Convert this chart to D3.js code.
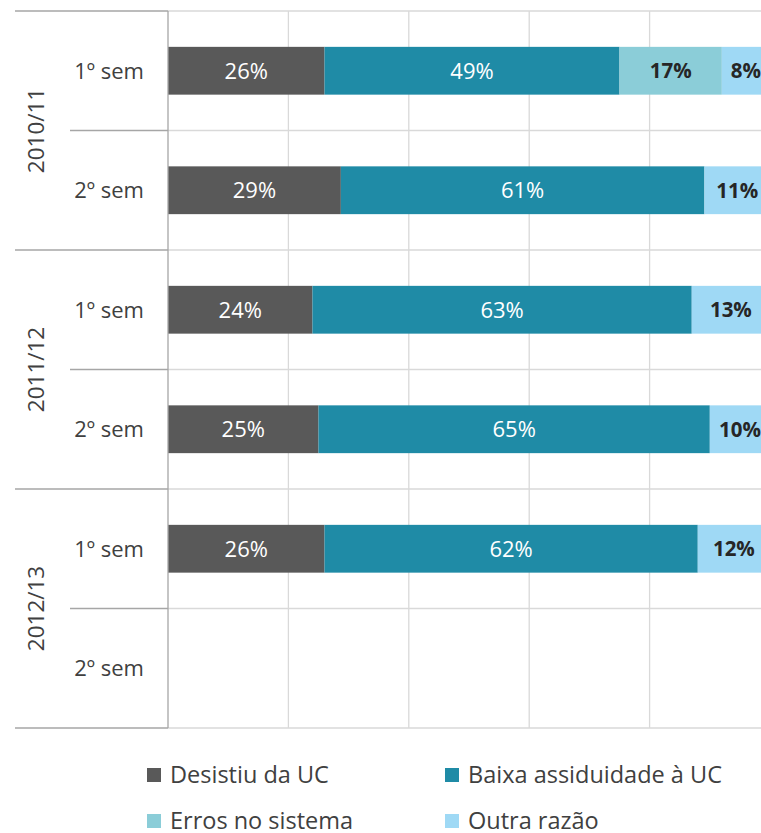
<!DOCTYPE html>
<html>
<head>
<meta charset="utf-8">
<script src="https://cdn.jsdelivr.net/npm/d3@7/dist/d3.min.js"></script>
<style>
  body { margin: 0; background: #fff; }
  svg { display: block; font-family: "Open Sans", "DejaVu Sans", sans-serif; }
</style>
</head>
<body>
<div id="chart"></div>
<script>
// data
var years = ["2010/11", "2011/12", "2012/13"],
    semesters = ["1º sem", "2º sem"],
    seriesNames = ["Desistiu da UC", "Baixa assiduidade à UC", "Erros no sistema", "Outra razão"],
    seriesColors = ["#595959", "#1f8ba6", "#8bcdd8", "#9fd9f5"],
    labelColors = ["#ffffff", "#ffffff", "#262626", "#262626"],
    desistiu = [26, 29, 24, 25, 26, null],
    baixa = [49, 61, 63, 65, 62, null],
    erros = [17, 0, 0, 0, 0, null],
    outra = [8, 11, 13, 10, 12, null],
    gridTicks = [0, 20, 40, 60, 80, 100];

var W = 761, H = 833,
    plotL = 168, plotR = 770, plotT = 11, plotB = 728;

var svg = d3.select("#chart").append("svg")
    .attr("width", W)
    .attr("height", H);

// one row per year/semester pair
var rows = [];
years.forEach(function (y) {
    semesters.forEach(function (s) {
        rows.push({ year: y, sem: s, key: y + "|" + s });
    });
});
var allSeries = [desistiu, baixa, erros, outra];

var x = d3.scaleLinear().domain([0, 100]).range([plotL, plotR]);
var yBand = d3.scaleBand().domain(rows.map(function (r) { return r.key; }))
    .range([plotT, plotB]).paddingInner(0).paddingOuter(0);

// gridlines
svg.append("g").selectAll("line")
    .data(gridTicks.slice(1))
    .enter().append("line")
    .attr("x1", function (d) { return x(d); })
    .attr("x2", function (d) { return x(d); })
    .attr("y1", plotT).attr("y2", plotB)
    .attr("stroke", "#d9d9d9").attr("stroke-width", 1.3);

svg.append("g").selectAll("line")
    .data(rows.map(function (r) { return yBand(r.key); }).concat([plotB]))
    .enter().append("line")
    .attr("x1", plotL).attr("x2", plotR)
    .attr("y1", function (d) { return d; })
    .attr("y2", function (d) { return d; })
    .attr("stroke", "#d9d9d9").attr("stroke-width", 1.3);

// stacked bars, normalised to 100 per row
var barH = yBand.bandwidth() * 0.4;
rows.forEach(function (r, i) {
    var vals = allSeries.map(function (s) { return s[i]; });
    if (vals[0] == null) return;
    var total = d3.sum(vals), acc = 0;
    var g = svg.append("g");
    var yc = yBand(r.key) + yBand.bandwidth() / 2;
    vals.forEach(function (v, k) {
        if (!v) return;
        var x0 = x(acc / total * 100), x1 = x((acc + v) / total * 100);
        acc += v;
        g.append("rect")
            .attr("x", x0).attr("y", yc - barH / 2)
            .attr("width", x1 - x0).attr("height", barH)
            .attr("fill", seriesColors[k]);
        g.append("text")
            .attr("x", (x0 + x1) / 2).attr("y", yc)
            .attr("dy", "0.36em")
            .attr("text-anchor", "middle")
            .attr("font-size", k >= 2 ? 20.5 : 22)
            .attr("font-weight", k >= 2 ? "bold" : "normal")
            .attr("fill", labelColors[k])
            .text(v + "%");
    });
});

// category axis
svg.append("line")
    .attr("x1", plotL).attr("x2", plotL).attr("y1", plotT).attr("y2", plotB)
    .attr("stroke", "#a6a6a6").attr("stroke-width", 1.3);

rows.forEach(function (r) {
    var yc = yBand(r.key) + yBand.bandwidth() / 2;
    svg.append("text")
        .attr("x", 109).attr("y", yc).attr("dy", "0.36em")
        .attr("text-anchor", "middle")
        .attr("font-size", 22).attr("fill", "#404040")
        .text(r.sem);
});

years.forEach(function (y, i) {
    var y0 = yBand(y + "|" + semesters[0]),
        ym = yBand(y + "|" + semesters[1]),
        y1 = ym + yBand.bandwidth();
    svg.append("line")
        .attr("x1", 15).attr("x2", plotL).attr("y1", y0).attr("y2", y0)
        .attr("stroke", "#a6a6a6").attr("stroke-width", 1.3);
    svg.append("line")
        .attr("x1", 70).attr("x2", plotL).attr("y1", ym).attr("y2", ym)
        .attr("stroke", "#a6a6a6").attr("stroke-width", 1.3);
    if (i === years.length - 1) {
        svg.append("line")
            .attr("x1", 15).attr("x2", plotL).attr("y1", y1).attr("y2", y1)
            .attr("stroke", "#a6a6a6").attr("stroke-width", 1.3);
    }
    svg.append("text")
        .attr("transform", "translate(36," + ((y0 + y1) / 2) + ") rotate(-90)")
        .attr("dy", "0.36em")
        .attr("text-anchor", "middle")
        .attr("font-size", 22.5).attr("fill", "#404040")
        .text(y);
});

// legend
var legendPos = [[147, 775], [445, 775], [147, 821], [445, 821]];
seriesNames.forEach(function (name, k) {
    var p = legendPos[k];
    svg.append("rect")
        .attr("x", p[0]).attr("y", p[1] - 7)
        .attr("width", 14).attr("height", 14)
        .attr("fill", seriesColors[k]);
    svg.append("text")
        .attr("x", p[0] + 23).attr("y", p[1]).attr("dy", "0.36em")
        .attr("font-size", 23.5).attr("fill", "#404040")
        .text(name);
});
</script>
</body>
</html>
